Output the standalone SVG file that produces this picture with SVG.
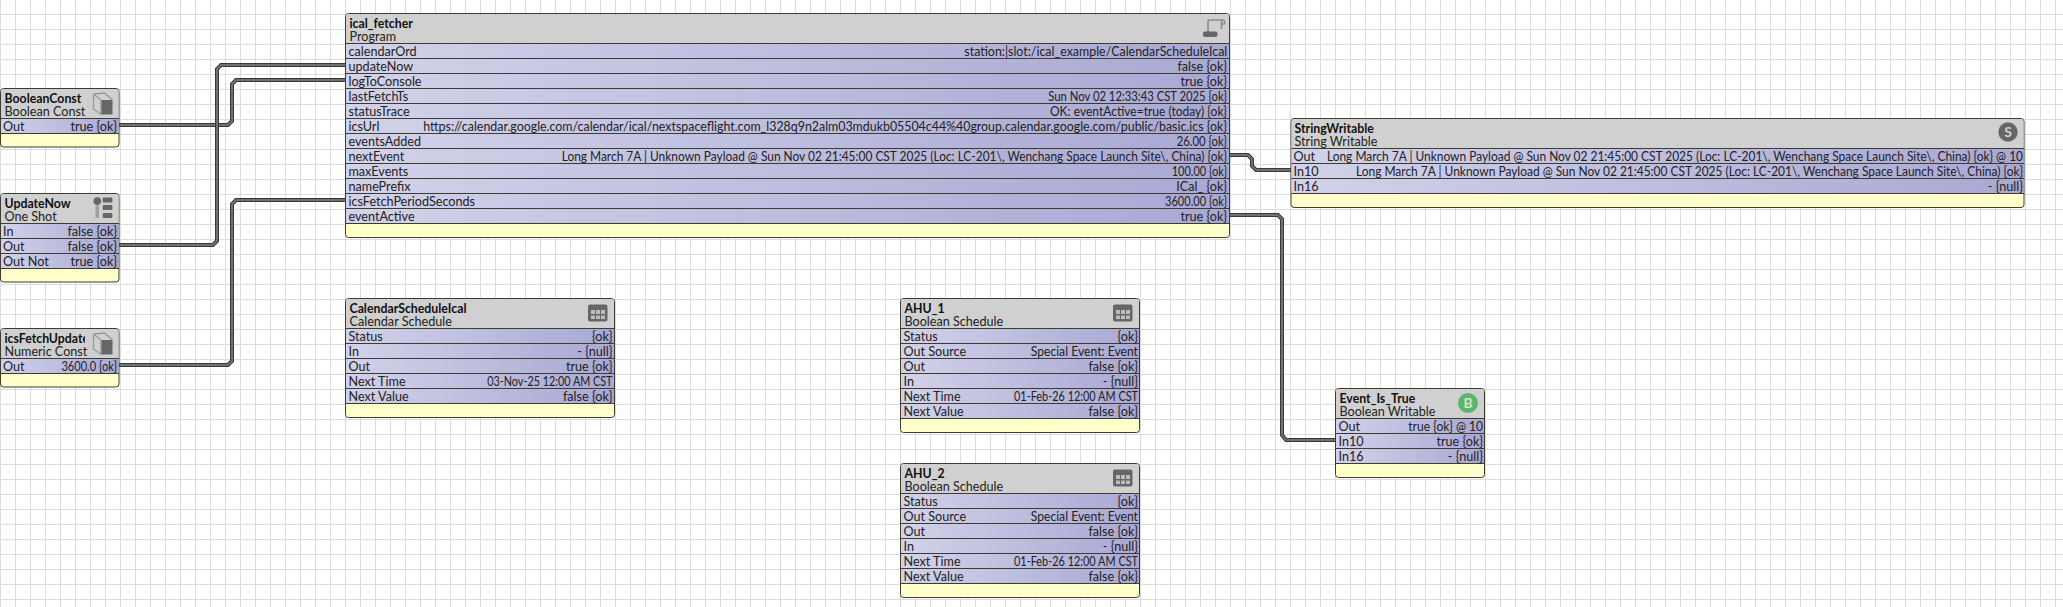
<svg xmlns="http://www.w3.org/2000/svg" width="2063" height="607" viewBox="0 0 2063 607">
<style>
text{font-family:Lato,"Liberation Sans",sans-serif;font-size:12.6px;fill:#222}
.t{font-weight:700;fill:#111;font-size:12.3px}
.r{text-anchor:end}
.box{fill:#ffffcc;stroke:#3c3c30;stroke-width:1}
.hd{fill:#d0d0d0}
.ln{stroke:#3c3c30;stroke-width:1;fill:none}
.co{fill:none;stroke:#3a3a3a;stroke-width:4}
.ci{fill:none;stroke:#707070;stroke-width:2}
.ic{fill:#666}
.row{fill:url(#rg)}
</style>
<defs>
<pattern id="grid" width="15" height="15" patternUnits="userSpaceOnUse" x="0" y="14"><path d="M.5 0V15M0 .5H15" stroke="#dcdcdc" fill="none"/></pattern>
<linearGradient id="rg"><stop offset="0" stop-color="#d2d2ea"/><stop offset="1" stop-color="#a8a8d4"/></linearGradient>
<clipPath id="cp"><rect x="0" y="328" width="85" height="30"/></clipPath>
<g id="ibox"><path class="ic" d="M8.500 8H20V22.500H8.500Z"/><path d="M1 2L8.500 8M1 2V17L8.500 22.500M1 2L12 1L20 8M8.500 8V22.500" fill="none" stroke="#9a9a9a" stroke-width="1.300"/></g>
<g id="isch"><rect class="ic" x="0" y="0" width="19.500" height="17" rx="2"/><path d="M3 5.500h4v4H3zM8 5.500h4v4H8zM13 5.500h4v4h-4zM3 11h4v3.500H3zM8 11h4v3.500H8zM13 11h4v3.500h-4z" fill="#bcbcbc"/></g>
</defs>
<rect width="2063" height="607" fill="#fff"/>
<rect width="2063" height="607" fill="url(#grid)"/>

<g id="connectors">
<path class="co" d="M119 125H228L232 121V84L236 80H346"/><path class="ci" d="M119 125H228L232 121V84L236 80H346"/>
<path class="co" d="M119 245H213L217 241V69L221 65H346"/><path class="ci" d="M119 245H213L217 241V69L221 65H346"/>
<path class="co" d="M119 365H228L232 361V204L236 200H346"/><path class="ci" d="M119 365H228L232 361V204L236 200H346"/>
<path class="co" d="M1229 155H1248L1252 159V166L1256 170H1291"/><path class="ci" d="M1229 155H1248L1252 159V166L1256 170H1291"/>
<path class="co" d="M1229 215H1278L1282 219V435L1286 440H1336"/><path class="ci" d="M1229 215H1278L1282 219V435L1286 440H1336"/>
</g>

<g id="BooleanConst">
<rect class="box" x=".5" y="88.500" width="118.500" height="58.500" rx="3"/>
<path class="hd" d="M1 118V91.500Q1 89 3.500 89H116Q118.500 89 118.500 91.500V118Z"/>
<rect class="row" x="1" y="118.500" width="117.500" height="15"/>
<path class="ln" d="M1 118.500H119M1 133.500H119"/>
<use href="#ibox" x="92.500" y="92"/>
<text class="t" x="4.500" y="103">BooleanConst</text><text x="4.500" y="116">Boolean Const</text>
<text x="3" y="131">Out</text><text class="r" x="117" y="131">true {ok}</text>
</g>

<g id="UpdateNow">
<rect class="box" x=".5" y="193.500" width="118.500" height="88.500" rx="3"/>
<path class="hd" d="M1 223V196.500Q1 194 3.500 194H116Q118.500 194 118.500 196.500V223Z"/>
<rect class="row" x="1" y="223.500" width="117.500" height="45"/>
<path class="ln" d="M1 223.500H119M1 238.500H119M1 253.500H119M1 268.500H119"/>
<path d="M97.300 204V218" stroke="#a0a0a0" stroke-width="3.500"/><circle class="ic" cx="97.300" cy="201" r="3.800"/>
<rect class="ic" x="102.700" y="197.500" width="9.700" height="5" rx="1"/><rect class="ic" x="102.700" y="205" width="9.700" height="5" rx="1"/><rect class="ic" x="102.700" y="213" width="9.700" height="5" rx="1"/>
<text class="t" x="4.500" y="208">UpdateNow</text><text x="4.500" y="221">One Shot</text>
<text x="3" y="236">In</text><text class="r" x="117" y="236">false {ok}</text>
<text x="3" y="251">Out</text><text class="r" x="117" y="251">false {ok}</text>
<text x="3" y="266">Out Not</text><text class="r" x="117" y="266">true {ok}</text>
</g>

<g id="icsFetchUpdate">
<rect class="box" x=".5" y="328.500" width="118.500" height="58.500" rx="3"/>
<path class="hd" d="M1 358V331.500Q1 329 3.500 329H116Q118.500 329 118.500 331.500V358Z"/>
<rect class="row" x="1" y="358.500" width="117.500" height="15"/>
<path class="ln" d="M1 358.500H119M1 373.500H119"/>
<use href="#ibox" x="92.500" y="332"/>
<text class="t" x="4.500" y="343" clip-path="url(#cp)">icsFetchUpdate</text><text x="4.500" y="356">Numeric Const</text>
<text x="3" y="371">Out</text><text x="61.400" y="371" textLength="55.600" lengthAdjust="spacingAndGlyphs">3600.0 {ok}</text>
</g>

<g id="ical_fetcher">
<rect class="box" x="345.500" y="13.500" width="884" height="224" rx="3"/>
<path class="hd" d="M346 43V16.500Q346 14 348.500 14H1226.500Q1229 14 1229 16.500V43Z"/>
<rect class="row" x="346" y="43.500" width="883" height="180"/>
<path class="ln" d="M346 43.500H1229M346 58.500H1229M346 73.500H1229M346 88.500H1229M346 103.500H1229M346 118.500H1229M346 133.500H1229M346 148.500H1229M346 163.500H1229M346 178.500H1229M346 193.500H1229M346 208.500H1229M346 223.500H1229"/>
<path d="M1208 32V22Q1208 20 1210 20H1222.500Q1224.500 20 1224.500 22V24H1221.500M1221.500 20V29" fill="none" stroke="#8a8a8a" stroke-width="1.600"/>
<rect class="ic" x="1203" y="31.500" width="14.500" height="5.500" rx="2"/>
<text class="t" x="349.500" y="28">ical_fetcher</text><text x="349.500" y="41">Program</text>
<text x="348.500" y="56">calendarOrd</text><text x="964.300" y="56" textLength="263" lengthAdjust="spacingAndGlyphs">station:|slot:/ical_example/CalendarScheduleIcal</text>
<text x="348.500" y="71">updateNow</text><text class="r" x="1227" y="71">false {ok}</text>
<text x="348.500" y="86">logToConsole</text><text class="r" x="1227" y="86">true {ok}</text>
<text x="348.500" y="101">lastFetchTs</text><text x="1048.300" y="101" textLength="178.700" lengthAdjust="spacingAndGlyphs">Sun Nov 02 12:33:43 CST 2025 {ok}</text>
<text x="348.500" y="116">statusTrace</text><text x="1050" y="116" textLength="177" lengthAdjust="spacingAndGlyphs">OK: eventActive=true (today) {ok}</text>
<text x="348.500" y="131">icsUrl</text><text x="423.300" y="131" textLength="803.700" lengthAdjust="spacingAndGlyphs">https://calendar.google.com/calendar/ical/nextspaceflight.com_l328q9n2alm03mdukb05504c44%40group.calendar.google.com/public/basic.ics {ok}</text>
<text x="348.500" y="146">eventsAdded</text><text x="1176.700" y="146" textLength="50.300" lengthAdjust="spacingAndGlyphs">26.00 {ok}</text>
<text x="348.500" y="161">nextEvent</text><text x="561.700" y="161" textLength="665.300" lengthAdjust="spacingAndGlyphs">Long March 7A | Unknown Payload @ Sun Nov 02 21:45:00 CST 2025 (Loc: LC-201\, Wenchang Space Launch Site\, China) {ok}</text>
<text x="348.500" y="176">maxEvents</text><text x="1171.700" y="176" textLength="55.300" lengthAdjust="spacingAndGlyphs">100.00 {ok}</text>
<text x="348.500" y="191">namePrefix</text><text class="r" x="1227" y="191">ICal_ {ok}</text>
<text x="348.500" y="206">icsFetchPeriodSeconds</text><text x="1165" y="206" textLength="62" lengthAdjust="spacingAndGlyphs">3600.00 {ok}</text>
<text x="348.500" y="221">eventActive</text><text class="r" x="1227" y="221">true {ok}</text>
</g>

<g id="CalendarScheduleIcal">
<rect class="box" x="345.500" y="298.500" width="269" height="119" rx="3"/>
<path class="hd" d="M346 328V301.500Q346 299 348.500 299H611.500Q614 299 614 301.500V328Z"/>
<rect class="row" x="346" y="328.500" width="268" height="75"/>
<path class="ln" d="M346 328.500H614M346 343.500H614M346 358.500H614M346 373.500H614M346 388.500H614M346 403.500H614"/>
<use href="#isch" x="588" y="304.500"/>
<text class="t" x="349.500" y="313">CalendarScheduleIcal</text><text x="349.500" y="326">Calendar Schedule</text>
<text x="348.500" y="341">Status</text><text class="r" x="612.500" y="341">{ok}</text>
<text x="348.500" y="356">In</text><text class="r" x="612.500" y="356">- {null}</text>
<text x="348.500" y="371">Out</text><text class="r" x="612.500" y="371">true {ok}</text>
<text x="348.500" y="386">Next Time</text><text x="487.200" y="386" textLength="125.300" lengthAdjust="spacingAndGlyphs">03-Nov-25 12:00 AM CST</text>
<text x="348.500" y="401">Next Value</text><text class="r" x="612.500" y="401">false {ok}</text>
</g>

<g id="AHU_1">
<rect class="box" x="900.500" y="298.500" width="239" height="134" rx="3"/>
<path class="hd" d="M901 328V301.500Q901 299 903.500 299H1136.500Q1139 299 1139 301.500V328Z"/>
<rect class="row" x="901" y="328.500" width="238" height="90"/>
<path class="ln" d="M901 328.500H1139M901 343.500H1139M901 358.500H1139M901 373.500H1139M901 388.500H1139M901 403.500H1139M901 418.500H1139"/>
<use href="#isch" x="1113" y="304.500"/>
<text class="t" x="904.500" y="313">AHU_1</text><text x="904.500" y="326">Boolean Schedule</text>
<text x="903.500" y="341">Status</text><text class="r" x="1138" y="341">{ok}</text>
<text x="903.500" y="356">Out Source</text><text x="1030.700" y="356" textLength="107.300" lengthAdjust="spacingAndGlyphs">Special Event: Event</text>
<text x="903.500" y="371">Out</text><text class="r" x="1138" y="371">false {ok}</text>
<text x="903.500" y="386">In</text><text class="r" x="1138" y="386">- {null}</text>
<text x="903.500" y="401">Next Time</text><text x="1014" y="401" textLength="124" lengthAdjust="spacingAndGlyphs">01-Feb-26 12:00 AM CST</text>
<text x="903.500" y="416">Next Value</text><text class="r" x="1138" y="416">false {ok}</text>
</g>

<g id="AHU_2">
<rect class="box" x="900.500" y="463.500" width="239" height="134" rx="3"/>
<path class="hd" d="M901 493V466.500Q901 464 903.500 464H1136.500Q1139 464 1139 466.500V493Z"/>
<rect class="row" x="901" y="493.500" width="238" height="90"/>
<path class="ln" d="M901 493.500H1139M901 508.500H1139M901 523.500H1139M901 538.500H1139M901 553.500H1139M901 568.500H1139M901 583.500H1139"/>
<use href="#isch" x="1113" y="469.500"/>
<text class="t" x="904.500" y="478">AHU_2</text><text x="904.500" y="491">Boolean Schedule</text>
<text x="903.500" y="506">Status</text><text class="r" x="1138" y="506">{ok}</text>
<text x="903.500" y="521">Out Source</text><text x="1030.700" y="521" textLength="107.300" lengthAdjust="spacingAndGlyphs">Special Event: Event</text>
<text x="903.500" y="536">Out</text><text class="r" x="1138" y="536">false {ok}</text>
<text x="903.500" y="551">In</text><text class="r" x="1138" y="551">- {null}</text>
<text x="903.500" y="566">Next Time</text><text x="1014" y="566" textLength="124" lengthAdjust="spacingAndGlyphs">01-Feb-26 12:00 AM CST</text>
<text x="903.500" y="581">Next Value</text><text class="r" x="1138" y="581">false {ok}</text>
</g>

<g id="StringWritable">
<rect class="box" x="1291" y="118.500" width="733" height="89" rx="3"/>
<path class="hd" d="M1291.500 148V121.500Q1291.500 119 1294 119H2021Q2023.500 119 2023.500 121.500V148Z"/>
<rect class="row" x="1291.500" y="148.500" width="732" height="45"/>
<path class="ln" d="M1291.500 148.500H2024M1291.500 163.500H2024M1291.500 178.500H2024M1291.500 193.500H2024"/>
<circle class="ic" cx="2008" cy="132" r="9.700"/>
<text x="2008" y="137" text-anchor="middle" style="font-size:14px;font-weight:700;fill:#d0d0d0">S</text>
<text class="t" x="1294.500" y="133">StringWritable</text><text x="1294.500" y="146">String Writable</text>
<text x="1293.500" y="161">Out</text><text x="1327" y="161" textLength="696" lengthAdjust="spacingAndGlyphs">Long March 7A | Unknown Payload @ Sun Nov 02 21:45:00 CST 2025 (Loc: LC-201\, Wenchang Space Launch Site\, China) {ok} @ 10</text>
<text x="1293.500" y="176">In10</text><text x="1356" y="176" textLength="667" lengthAdjust="spacingAndGlyphs">Long March 7A | Unknown Payload @ Sun Nov 02 21:45:00 CST 2025 (Loc: LC-201\, Wenchang Space Launch Site\, China) {ok}</text>
<text x="1293.500" y="191">In16</text><text class="r" x="2023" y="191">- {null}</text>
</g>

<g id="Event_Is_True">
<rect class="box" x="1335.500" y="388.500" width="149" height="89" rx="3"/>
<path class="hd" d="M1336 418V391.500Q1336 389 1338.500 389H1481.500Q1484 389 1484 391.500V418Z"/>
<rect class="row" x="1336" y="418.500" width="148" height="45"/>
<path class="ln" d="M1336 418.500H1484M1336 433.500H1484M1336 448.500H1484M1336 463.500H1484"/>
<circle cx="1468" cy="403" r="10" fill="#5cb56a"/>
<text x="1468" y="408" text-anchor="middle" style="font-size:14px;font-weight:700;fill:#cfe8d2">B</text>
<text class="t" x="1339.500" y="403">Event_Is_True</text><text x="1339.500" y="416">Boolean Writable</text>
<text x="1338.500" y="431">Out</text><text x="1408.300" y="431" textLength="74.700" lengthAdjust="spacingAndGlyphs">true {ok} @ 10</text>
<text x="1338.500" y="446">In10</text><text class="r" x="1483" y="446">true {ok}</text>
<text x="1338.500" y="461">In16</text><text class="r" x="1483" y="461">- {null}</text>
</g>
</svg>
